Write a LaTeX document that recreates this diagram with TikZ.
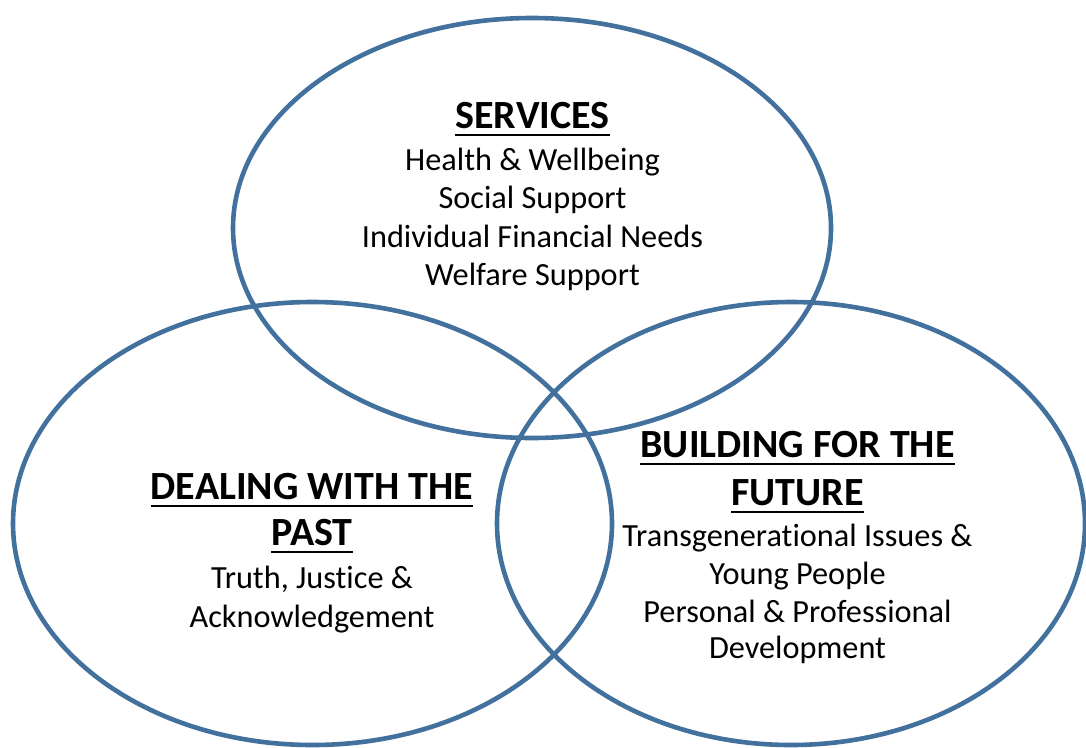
\documentclass[tikz,border=0pt]{standalone}
\usepackage{fontspec}
\setmainfont[Ligatures=NoCommon]{Carlito}
\usetikzlibrary{shapes.geometric}
\definecolor{ringblue}{RGB}{65,113,156}
\begin{document}
\begin{tikzpicture}[x=1pt,y=-1pt,
  ring/.style={draw=ringblue, line width=4.6pt, ellipse, inner sep=0pt, outer sep=0pt},
  head/.style={anchor=base, inner sep=0pt, font=\fontsize{40}{46}\selectfont\bfseries},
  body/.style={anchor=base, inner sep=0pt, font=\fontsize{32.3}{38}\selectfont},
  uline/.style={draw=black, line width=2pt}]
\useasboundingbox[fill=white] (0,0) rectangle (1086,747);
% circles
\node[ring, minimum width=598pt, minimum height=420pt] (services) at (532,228) {};
\node[ring, minimum width=599pt, minimum height=443pt] (past) at (312.5,523.5) {};
\node[ring, minimum width=588pt, minimum height=443pt] (future) at (791,523.5) {};
% services text
\node[head] (sh) at (532.5,128) {SERVICES};
\node[body] (s1) at (532.5,170) {Health \& Wellbeing};
\node[body] (s2) at (532.5,208.5) {Social Support};
\node[body] (s3) at (532.5,247) {Individual Financial Needs};
\node[body] (s4) at (532.5,285) {Welfare Support};
% past text
\node[head] (ph1) at (312,499) {DEALING WITH THE};
\node[head] (ph2) at (312,545) {PAST};
\node[body] (p1) at (312,588) {Truth, Justice \&};
\node[body] (p2) at (312,627) {Acknowledgement};
% future text
\node[head] (fh1) at (797.5,457) {BUILDING FOR THE};
\node[head] (fh2) at (797.5,505) {FUTURE};
\node[body] (f1) at (797.5,546) {Transgenerational Issues \&};
\node[body] (f2) at (797.5,584) {Young People};
\node[body] (f3) at (797.5,622) {Personal \& Professional};
\node[body] (f4) at (797.5,658) {Development};
% underlines
\foreach \n in {sh,ph1,ph2,fh1,fh2}{
  \draw[uline] ([yshift=-6.5pt]\n.base west) -- ([yshift=-6.5pt]\n.base east);
}
\end{tikzpicture}
\end{document}
